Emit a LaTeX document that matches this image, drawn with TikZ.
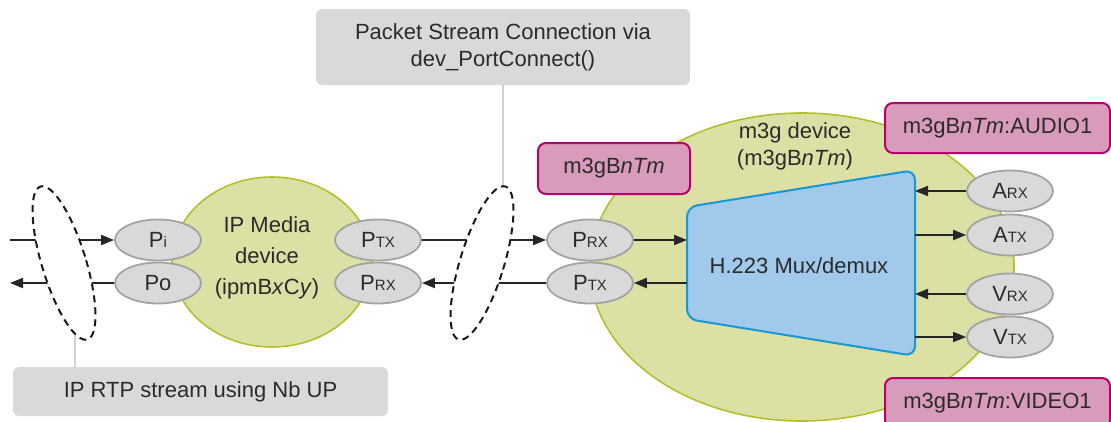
\documentclass[tikz,border=0pt]{standalone}
\usepackage{fontspec}
\setmainfont{Liberation Sans}
\usetikzlibrary{shapes.geometric,arrows.meta}

\definecolor{devgreen}{HTML}{DCE0A4}
\definecolor{devedge}{HTML}{B3BF2E}
\definecolor{portgray}{HTML}{D9D9DA}
\definecolor{portedge}{HTML}{A3A3A3}
\definecolor{muxblue}{HTML}{A0C9EB}
\definecolor{muxedge}{HTML}{1798D6}
\definecolor{tagpink}{HTML}{D99BBB}
\definecolor{tagedge}{HTML}{B5006E}
\definecolor{notegray}{HTML}{D9D9DA}
\definecolor{txt}{HTML}{2B2B2B}

\newcommand{\portsub}[1]{{\fontsize{15pt}{15pt}\selectfont #1}}
\newcommand{\bigtxt}{\fontsize{22pt}{27pt}\selectfont}

\tikzset{
  port/.style={ellipse, draw=portedge, line width=1.8pt, fill=portgray,
    minimum width=86pt, minimum height=41pt, inner sep=0pt, text=txt, font=\bigtxt},
  device/.style={draw=devedge, line width=1.6pt, fill=devgreen},
  tag/.style={rectangle, rounded corners=8pt, draw=tagedge, line width=2pt,
    fill=tagpink, inner sep=0pt, text=txt, font=\bigtxt},
  note/.style={rectangle, rounded corners=6pt, fill=notegray, inner sep=0pt,
    text=txt, font=\bigtxt, align=center},
  loopring/.style={ellipse, draw=black!90, fill=white, line width=2pt,
    dash pattern=on 7pt off 5pt, minimum width=44pt, minimum height=160pt},
  link/.style={->, line width=2pt, draw=black!85},
  pin/.style={line width=2pt, draw=black!18}
}

\begin{document}
\begin{tikzpicture}[x=1pt, y=-1pt, >={Triangle[length=13pt,width=10pt]}]
  \useasboundingbox (0,0) rectangle (1111,421);

  % Dispositivi
  \draw[device] (272,262) ellipse [x radius=100, y radius=85];
  \draw[device] (802,267) ellipse [x radius=212, y radius=154];
  \node[text=txt, font=\fontsize{22pt}{31pt}\selectfont, align=center] (ipdev) at (267,258)
    {IP Media\\device\\(ipmB\textit{x}C\textit{y})};
  \node[text=txt, font=\bigtxt, align=center] (m3gdev) at (795,146)
    {m3g device\\(m3gB\textit{nTm})};

  % Mux/demux
  \draw[draw=muxedge, fill=muxblue, line width=2pt, rounded corners=10pt]
    (687,207) -- (915,170) -- (915,356) -- (687,319) -- cycle;
  \node[text=txt, font=\bigtxt] (mux) at (799,266) {H.223 Mux/demux};
  \coordinate (muxW) at (687,266);
  \coordinate (muxE) at (915,266);

  % Porte
  \node[port] (pin) at (158,240) {P\portsub{i}};
  \node[port] (pout) at (158,283) {Po};
  \node[port] (iptx) at (378,240) {P\portsub{TX}};
  \node[port] (iprx) at (378,283) {P\portsub{RX}};
  \node[port] (mrx) at (590,240) {P\portsub{RX}};
  \node[port] (mtx) at (590,283) {P\portsub{TX}};
  \node[port] (arx) at (1010,191) {A\portsub{RX}};
  \node[port] (atx) at (1010,235) {A\portsub{TX}};
  \node[port] (vrx) at (1010,294) {V\portsub{RX}};
  \node[port] (vtx) at (1010,337) {V\portsub{TX}};

  % Etichette
  \node[tag, minimum width=152pt, minimum height=51pt] (tagm3g) at (614,168.5) {m3gB\textit{nTm}};
  \node[tag, minimum width=225pt, minimum height=50pt] (tagaudio) at (997.5,128) {m3gB\textit{nTm}:AUDIO1};
  \node[tag, minimum width=225pt, minimum height=50pt] (tagvideo) at (997.5,403) {m3gB\textit{nTm}:VIDEO1};

  % Note
  \node[note, minimum width=374pt, minimum height=76pt] (pscnote) at (503,47)
    {Packet Stream Connection via\\dev\_PortConnect()};
  \node[note, minimum width=375pt, minimum height=49pt] (rtpnote) at (200.5,391.5)
    {IP RTP stream using Nb UP};

  % Flussi
  \coordinate (inL) at (10,240);
  \coordinate (outL) at (10,283);
  \draw[link] (inL) -- (pin.west);
  \draw[link] (pout.west) -- (outL);
  \draw[link] (iptx.east) -- (mrx.west);
  \draw[link] (mtx.west) -- (iprx.east);
  \draw[link] (mrx.east) -- (mrx.east -| muxW);
  \draw[link] (mtx.east -| muxW) -- (mtx.east);
  \draw[link] (arx.west) -- (arx.west -| muxE);
  \draw[link] (atx.west -| muxE) -- (atx.west);
  \draw[link] (vrx.west) -- (vrx.west -| muxE);
  \draw[link] (vtx.west -| muxE) -- (vtx.west);

  % Richiami
  \draw[pin] (pscnote.south) -- ++(0,115);
  \draw[pin] (rtpnote.north -| 75,0) -- ++(0,-45);

  % Anelli tratteggiati
  \node[loopring, rotate=17] (loopL) at (64,263) {};
  \node[loopring, rotate=-17] (loopM) at (482,263) {};
\end{tikzpicture}
\end{document}
